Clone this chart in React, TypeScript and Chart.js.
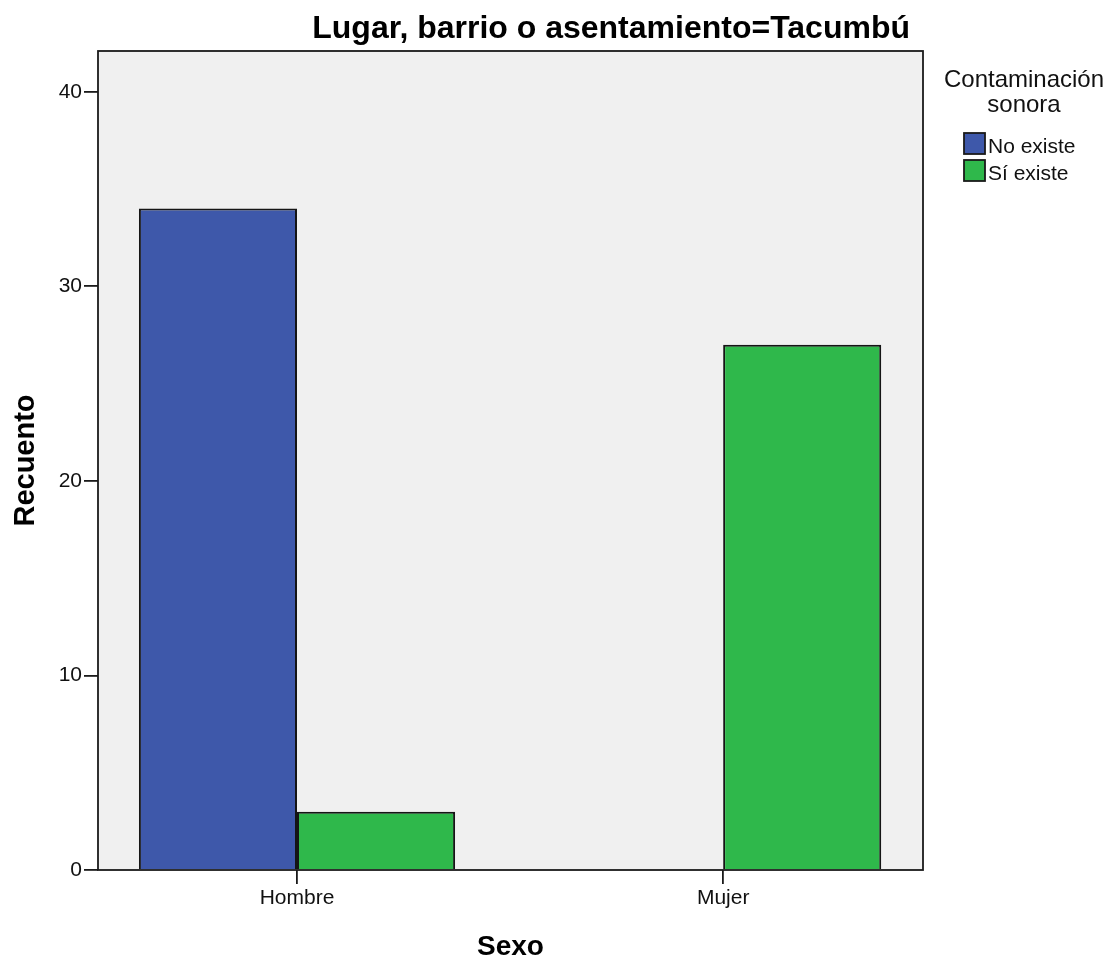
import React, { useEffect, useRef } from "react";
import { Chart, registerables } from "chart.js";

Chart.register(...registerables);

const categories = ["Hombre", "Mujer"];
const seriesNames = ["No existe", "Sí existe"];
const noExiste = [34, 0];
const siExiste = [3, 27];
const yTicks = [0, 10, 20, 30, 40];
const titleText = "Lugar, barrio o asentamiento=Tacumbú";
const xTitle = "Sexo";
const yTitle = "Recuento";
const legendTitle = ["Contaminación", "sonora"];
const seriesColors = ["#3e58aa", "#2fb84b"];

const FONT = "'Liberation Sans', Arial, sans-serif";

const decor = {
  id: "decor",
  beforeDraw(chart: any) {
    const { ctx, chartArea: a } = chart;
    ctx.save();
    ctx.fillStyle = "#f0f0f0";
    ctx.fillRect(a.left, a.top, a.right - a.left, a.bottom - a.top);
    ctx.restore();
  },
  afterDraw(chart: any) {
    const { ctx, chartArea: a } = chart;
    ctx.save();
    // frame
    ctx.strokeStyle = "#1a1a1a";
    ctx.lineWidth = 1.8;
    ctx.strokeRect(a.left, a.top, a.right - a.left, a.bottom - a.top);

    ctx.fillStyle = "#000";
    // main title
    ctx.font = `bold 32px ${FONT}`;
    ctx.textAlign = "right";
    ctx.textBaseline = "alphabetic";
    ctx.fillText(titleText, a.right - 13, 38);

    // x title
    ctx.font = `bold 28px ${FONT}`;
    ctx.textAlign = "center";
    ctx.fillText(xTitle, (a.left + a.right) / 2, 955);

    // y title
    ctx.save();
    ctx.font = `bold 29px ${FONT}`;
    ctx.translate(34, (a.top + a.bottom) / 2);
    ctx.rotate(-Math.PI / 2);
    ctx.textAlign = "center";
    ctx.fillText(yTitle, 0, 0);
    ctx.restore();

    // legend
    const cx = 1024;
    ctx.font = `24px ${FONT}`;
    ctx.fillStyle = "#111";
    ctx.textAlign = "center";
    ctx.fillText(legendTitle[0], cx, 87);
    ctx.fillText(legendTitle[1], cx, 112);
    ctx.font = `21px ${FONT}`;
    ctx.textAlign = "left";
    seriesNames.forEach((name, i) => {
      const y = 133 + i * 27;
      ctx.fillStyle = seriesColors[i];
      ctx.fillRect(964, y, 21, 21);
      ctx.strokeStyle = "#1a1a1a";
      ctx.lineWidth = 1.8;
      ctx.strokeRect(964, y, 21, 21);
      ctx.fillStyle = "#111";
      ctx.fillText(name, 988, y + 20);
    });
    ctx.restore();
  },
};

export default function App() {
  const ref = useRef<HTMLCanvasElement | null>(null);
  useEffect(() => {
    if (!ref.current) return;
    const chart = new Chart(ref.current, {
      type: "bar",
      data: {
        datasets: [
          {
            label: seriesNames[0],
            data: categories.map((_, i) => ({ x: i, y: noExiste[i] })),
            backgroundColor: seriesColors[0],
            borderColor: "#151515",
            borderWidth: 2,
          },
          {
            label: seriesNames[1],
            data: categories.map((_, i) => ({ x: i, y: siExiste[i] })),
            backgroundColor: seriesColors[1],
            borderColor: "#151515",
            borderWidth: 2,
          },
        ],
      },
      options: {
        animation: false,
        responsive: false,
        devicePixelRatio: 1,
        categoryPercentage: 0.742,
        barPercentage: 1,
        layout: { padding: { left: 0, top: 51, right: 195, bottom: 0 } },
        plugins: {
          legend: { display: false },
          tooltip: { enabled: false },
          title: { display: false },
        },
        scales: {
          x: {
            type: "linear",
            offset: false,
            min: -0.467,
            max: 1.469,
            afterBuildTicks: (scale: any) => {
              scale.ticks = categories.map((_, i) => ({ value: i }));
            },
            afterFit: (scale: any) => {
              scale.height = 90;
            },
            border: { display: false },
            grid: {
              offset: false,
              drawOnChartArea: false,
              drawTicks: true,
              tickLength: 14,
              color: "#1a1a1a",
              lineWidth: 1.8,
            },
            ticks: {
              autoSkip: false,
              maxRotation: 0,
              padding: 2,
              color: "#111",
              font: { family: FONT, size: 21 },
              callback: (v: any) => categories[v] ?? "",
            },
          },
          y: {
            type: "linear",
            min: 0,
            max: 42.1,
            afterBuildTicks: (scale: any) => {
              scale.ticks = yTicks.map((v) => ({ value: v }));
            },
            afterFit: (scale: any) => {
              scale.width = 98;
            },
            border: { display: false },
            grid: {
              drawOnChartArea: false,
              drawTicks: true,
              tickLength: 14,
              color: "#1a1a1a",
              lineWidth: 1.8,
            },
            ticks: {
              padding: 2,
              color: "#111",
              font: { family: FONT, size: 21 },
            },
          },
        },
      },
      plugins: [decor],
    } as any);
    return () => chart.destroy();
  }, []);
  return (
    <div style={{ position: "absolute", left: 0, top: 0, width: 1118, height: 960, background: "#fff" }}>
      <canvas ref={ref} width={1118} height={960} style={{ display: "block", width: 1118, height: 960 }} />
    </div>
  );
}
